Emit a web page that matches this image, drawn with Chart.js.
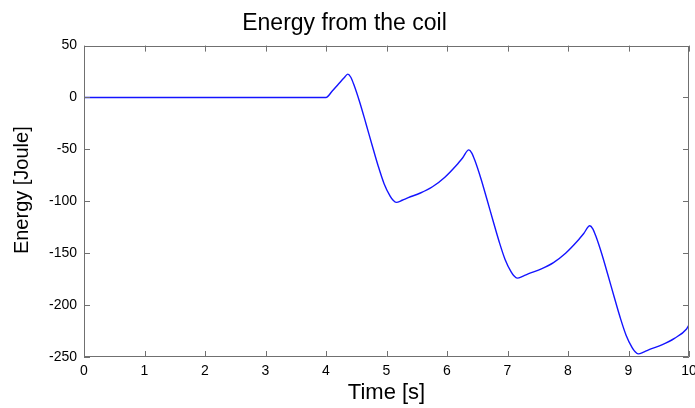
<!DOCTYPE html>
<html>
<head>
<meta charset="utf-8">
<script src="https://cdn.jsdelivr.net/npm/chart.js@4"></script>
<style>
html,body{margin:0;padding:0;background:#fff;}
canvas{display:block;}
</style>
</head>
<body>
<canvas id="c" width="695" height="408"></canvas>
<script>
// Data
const times = [0, 4.0, 4.1, 4.2, 4.3, 4.36, 4.41, 4.46, 4.56, 4.66, 4.76, 4.86, 4.96, 5.06, 5.11, 5.16,
  5.26, 5.36, 5.56, 5.76, 5.96, 6.16, 6.26, 6.36,
  6.41, 6.46, 6.56, 6.66, 6.76, 6.86, 6.96, 7.06, 7.11, 7.16,
  7.26, 7.36, 7.56, 7.76, 7.96, 8.16, 8.26, 8.36,
  8.41, 8.46, 8.56, 8.66, 8.76, 8.86, 8.96, 9.06, 9.11, 9.16,
  9.26, 9.36, 9.56, 9.76, 9.96, 10];
const energy = [0, 0, 6, 12.5, 19, 22.5, 19.5, 12.5, -5, -25, -45.5, -65.5, -83, -95, -99, -101,
  -99, -96.5, -92, -86, -77, -65, -58, -50.5,
  -53.5, -60.5, -78, -98, -118.5, -138.5, -156, -168, -172, -174,
  -172, -169.5, -165, -159, -150, -138, -131, -123.5,
  -126.5, -133.5, -151, -171, -191.5, -211.5, -229, -241, -245, -247,
  -245, -242.5, -238, -232, -223, -219];
const xTicks = [0, 1, 2, 3, 4, 5, 6, 7, 8, 9, 10];
const yTicks = [-250, -200, -150, -100, -50, 0, 50];
const titleText = 'Energy from the coil';
const xLabel = 'Time [s]';
const yLabel = 'Energy [Joule]';

const points = times.map((t, i) => ({x: t, y: energy[i]}));
const FONT = "'Liberation Sans', Arial, Helvetica, sans-serif";
const AXIS_COLOR = '#707070';

const boxTicks = {
  id: 'boxTicks',
  afterDraw(chart) {
    const {ctx, chartArea: a, scales} = chart;
    const L = 6;
    ctx.save();
    ctx.strokeStyle = AXIS_COLOR;
    ctx.lineWidth = 1;
    ctx.beginPath();
    ctx.rect(Math.round(a.left) + 0.5, Math.round(a.top) + 0.5,
             Math.round(a.right - a.left) - 1, Math.round(a.bottom - a.top) - 1);
    scales.x.ticks.forEach(t => {
      const px = Math.round(scales.x.getPixelForValue(t.value)) + 0.5;
      ctx.moveTo(px, a.bottom); ctx.lineTo(px, a.bottom - L);
      ctx.moveTo(px, a.top); ctx.lineTo(px, a.top + L);
    });
    scales.y.ticks.forEach(t => {
      const py = Math.round(scales.y.getPixelForValue(t.value)) + 0.5;
      ctx.moveTo(a.left, py); ctx.lineTo(a.left + L, py);
      ctx.moveTo(a.right, py); ctx.lineTo(a.right - L, py);
    });
    ctx.stroke();
    ctx.restore();
  }
};

new Chart(document.getElementById('c'), {
  type: 'line',
  data: {
    datasets: [{
      data: points,
      borderColor: '#1414ff',
      borderWidth: 1.4,
      pointRadius: 0,
      fill: false,
      cubicInterpolationMode: 'monotone'
    }]
  },
  options: {
    responsive: false,
    animation: false,
    devicePixelRatio: 1,
    layout: {padding: {left: 0, right: 6, top: 0, bottom: 0}},
    plugins: {
      legend: {display: false},
      tooltip: {enabled: false},
      title: {
        display: true,
        text: titleText,
        color: '#000',
        font: {family: FONT, size: 23, weight: 'normal'},
        padding: {top: 10, bottom: 8}
      }
    },
    scales: {
      x: {
        type: 'linear',
        min: 0, max: 10,
        afterBuildTicks(s) { s.ticks = xTicks.map(v => ({value: v})); },
        afterFit(s) { s.height = 51; s.paddingLeft = 0; s.paddingRight = 0; },
        grid: {display: false, drawTicks: false},
        border: {display: false},
        ticks: {
          color: '#000', font: {family: FONT, size: 14}, padding: 6,
          autoSkip: false, maxRotation: 0
        },
        title: {
          display: true, text: xLabel, color: '#000',
          font: {family: FONT, size: 22}, padding: {top: 2, bottom: 2}
        }
      },
      y: {
        type: 'linear',
        min: -250, max: 50,
        afterBuildTicks(s) { s.ticks = yTicks.map(v => ({value: v})); },
        afterFit(s) { s.width = 84; s.paddingTop = 0; s.paddingBottom = 0; },
        grid: {display: false, drawTicks: false},
        border: {display: false},
        ticks: {
          color: '#000', font: {family: FONT, size: 14}, padding: 7,
          autoSkip: false
        },
        title: {
          display: true, text: '    ' + yLabel, color: '#000',
          font: {family: FONT, size: 20}, padding: {top: 10, bottom: 2}
        }
      }
    }
  },
  plugins: [boxTicks]
});
</script>
</body>
</html>
